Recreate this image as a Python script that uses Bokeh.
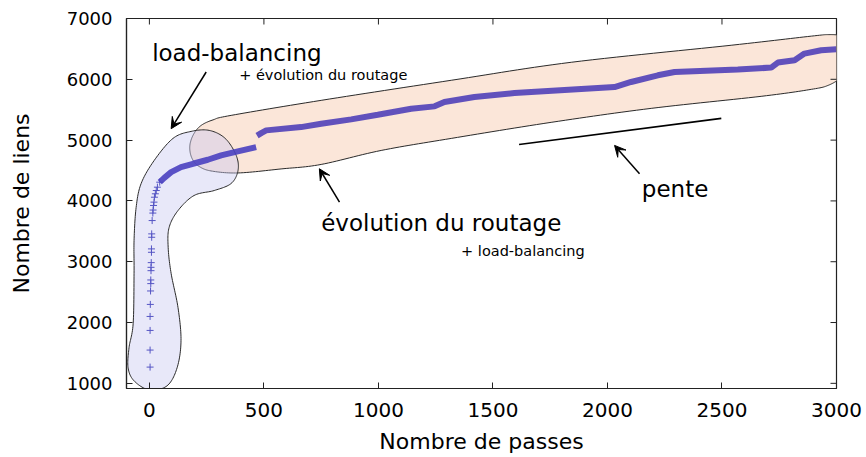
import numpy as np
from bokeh.plotting import figure
from bokeh.models import (Range1d, PolyAnnotation, Label, Arrow, VeeHead,
                          FixedTicker)
from bokeh.embed import file_html
from bokeh.resources import INLINE

# ---------------- data ----------------
sparse_x = [3, 3, 3, 3, 4, 5, 6, 6, 7, 7, 8, 9, 9, 10, 10, 12, 15, 16, 18,
            20, 22, 26, 30, 35, 45]
sparse_y = [1267, 1547, 1870, 2100, 2298, 2519, 2640, 2700, 2853, 2908, 2985,
            3155, 3211, 3402, 3458, 3677, 3800, 3850, 3925, 3980, 4061, 4117,
            4171, 4226, 4308]

low_x = [45, 65, 95, 138, 190, 255, 313, 386, 466]
low_y = [4308, 4380, 4473, 4555, 4611, 4677, 4748, 4814, 4885]

high_x = [470, 490, 510, 662, 750, 881, 997, 1143, 1245, 1288, 1419, 1594,
          1667, 2031, 2103, 2220, 2293, 2569, 2715, 2744, 2817, 2860, 2933, 2999]
high_y = [5075, 5120, 5160, 5214, 5270, 5341, 5418, 5517, 5555, 5626, 5709,
          5774, 5791, 5873, 5956, 6066, 6120, 6160, 6193, 6275, 6313, 6423,
          6478, 6494]

x_ticks = [0, 500, 1000, 1500, 2000, 2500, 3000]
y_ticks = [1000, 2000, 3000, 4000, 5000, 6000, 7000]

# slope segment ("pente")
slope_x = [1614, 2497]
slope_y = [4929, 5358]

# annotation outlines (data units)
orange_x = [178, 178, 195, 226, 278, 357, 750, 1318, 1842, 2540, 2890, 2968,
            3021, 3051, 3067, 3056, 3021, 2964, 2890, 2671, 2191, 1754, 1318,
            1012, 750, 575, 387, 269, 217, 191]
orange_y = [4797, 4946, 5110, 5242, 5333, 5407, 5654, 5984, 6280, 6560, 6710,
            6735, 6715, 6626, 6428, 6214, 6033, 5901, 5835, 5720, 5522, 5292,
            5028, 4830, 4600, 4526, 4460, 4493, 4567, 4666]

blue_x = [-1, 77, 121, 138, 125, 95, 82, 86, 125, 195, 283, 357, 387, 379, 331,
          261, 182, 103, 21, -36, -58, -67, -67, -71, -89, -93, -67]
blue_y = [893, 959, 1256, 1700, 2244, 2804, 3232, 3562, 3842, 4089, 4171, 4287,
          4501, 4748, 5028, 5160, 5143, 5028, 4666, 4287, 3891, 3348, 2804,
          1980, 1585, 1256, 1041]

X_MIN, X_MAX = -100, 3000
Y_MIN, Y_MAX = 915, 7000


def smooth_closed(xs, ys, n=14):
    P = np.column_stack([xs, ys]).astype(float)
    m = len(P)
    out = []
    for i in range(m):
        p0, p1, p2, p3 = P[i - 1], P[i], P[(i + 1) % m], P[(i + 2) % m]
        for t in np.linspace(0, 1, n, endpoint=False):
            t2, t3 = t * t, t * t * t
            out.append(0.5 * ((2 * p1) + (-p0 + p2) * t
                              + (2 * p0 - 5 * p1 + 4 * p2 - p3) * t2
                              + (-p0 + 3 * p1 - 3 * p2 + p3) * t3))
    out = np.array(out)
    return out[:, 0].tolist(), out[:, 1].tolist()


FONT = "DejaVu Sans"

p = figure(width=866, height=457, x_range=Range1d(X_MIN, X_MAX),
           y_range=Range1d(Y_MIN, Y_MAX), output_backend="svg",
           toolbar_location=None, min_border_left=126, min_border_right=30,
           min_border_top=18, min_border_bottom=69)
p.grid.visible = False
p.background_fill_color = "white"
p.border_fill_color = "white"
p.outline_line_color = "#222222"
p.outline_line_width = 1.2

bottom_ax = p.below[0]
left_ax = p.left[0]

# blobs
ox, oy = smooth_closed(orange_x, orange_y)
p.add_layout(PolyAnnotation(xs=ox, ys=oy, fill_color="#fbe3d5", fill_alpha=0.9,
                            line_color="#2a2a2a", line_alpha=1.0, line_width=1,
                            level="underlay"))
bx, by = smooth_closed(blue_x, blue_y)
p.add_layout(PolyAnnotation(xs=bx, ys=by, fill_color="#c8c8f0", fill_alpha=0.42,
                            line_color="#2a2a2a", line_alpha=1.0, line_width=1,
                            level="underlay"))

# data
p.scatter(sparse_x, sparse_y, marker="cross", size=7, line_color="#5555c4",
          line_width=1)
p.line(low_x, low_y, line_width=6, line_color="#4a40c0", line_alpha=0.9)
p.line(high_x, high_y, line_width=6, line_color="#5040b8", line_alpha=0.9)
p.line(slope_x, slope_y, line_width=1.6, line_color="black")

# mirrored inward ticks on top and right borders (half of a dash is clipped)
p.scatter(x_ticks, [Y_MAX] * len(x_ticks), marker="dash", angle=np.pi / 2,
          size=12, line_color="#222222", line_width=1)
p.scatter([X_MAX] * len(y_ticks), y_ticks, marker="dash", size=12,
          line_color="#222222", line_width=1)

for ax, ticks in [(bottom_ax, x_ticks), (left_ax, y_ticks)]:
    ax.ticker = FixedTicker(ticks=ticks)
    ax.major_tick_in = 6
    ax.major_tick_out = 0
    ax.minor_tick_in = 0
    ax.minor_tick_out = 0
    ax.axis_line_color = "#222222"
    ax.axis_line_width = 1.2
    ax.major_tick_line_color = "#222222"
    ax.major_label_text_font = FONT
    ax.major_label_text_color = "black"
    ax.axis_label_text_font = FONT
    ax.axis_label_text_font_style = "normal"
    ax.axis_label_text_color = "black"

bottom_ax.axis_label = "Nombre de passes"
bottom_ax.axis_label_text_font_size = "22px"
bottom_ax.major_label_text_font_size = "20px"
bottom_ax.major_label_standoff = 14
bottom_ax.axis_label_standoff = 9

left_ax.axis_label = "Nombre de liens"
left_ax.axis_label_text_font_size = "22px"
left_ax.major_label_text_font_size = "18px"
left_ax.major_label_standoff = 14
left_ax.axis_label_standoff = 30

# texts
texts = [
    ("load-balancing", 12, 6440, "23px"),
    ("+ évolution du routage", 392, 6065, "14.5px"),
    ("évolution du routage", 750, 3640, "23px"),
    ("+ load-balancing", 1361, 3180, "14.5px"),
    ("pente", 2150, 4200, "23px"),
]
for t, x, y, fs in texts:
    p.add_layout(Label(x=x, y=y, text=t, text_font=FONT, text_font_size=fs,
                       text_baseline="alphabetic", text_align="left",
                       text_color="black"))

# arrows
arrows = [(248, 6120, 95, 5188), (830, 3979, 742, 4529), (2140, 4447, 2031, 4913)]
for xs, ys, xe, ye in arrows:
    p.add_layout(Arrow(end=VeeHead(size=11, fill_color="black", line_color="black"),
                       x_start=xs, y_start=ys, x_end=xe, y_end=ye,
                       line_width=1.5, line_color="black"))

open("out.html", "w").write(file_html(p, INLINE))
